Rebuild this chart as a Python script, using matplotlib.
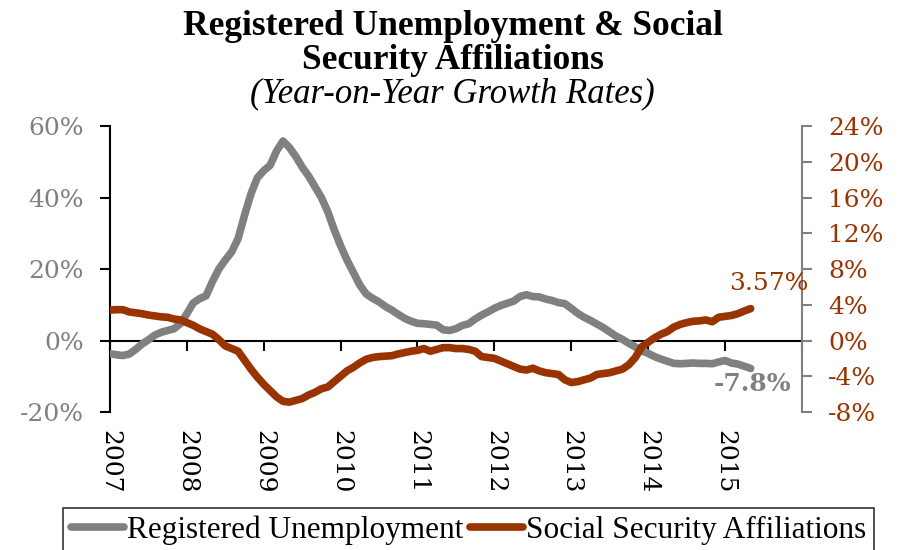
import numpy as np
import matplotlib.pyplot as plt
from matplotlib.lines import Line2D

plt.rcParams['font.family'] = ['DejaVu Serif']

# Monthly year-on-year growth rates, Jan 2007 - May 2015 (%)
years = np.arange(2007, 2016)
unemployment = [
    -3.7, -4.0, -4.2, -3.8, -2.5, -1.0, 0.2, 1.5, 2.3, 2.8, 3.3, 4.7,
    7.5, 10.5, 11.7, 12.5, 16.5, 20.0, 22.5, 24.8, 28.5, 35.0, 41.0, 45.5,
    47.5, 49.0, 53.0, 55.8, 54.0, 51.5, 48.5, 46.0, 43.0, 40.0, 36.0, 31.0,
    26.5, 22.5, 19.0, 15.5, 13.0, 11.8, 10.8, 9.5, 8.5, 7.3, 6.2, 5.4,
    4.8, 4.7, 4.5, 4.3, 3.0, 2.8, 3.3, 4.2, 4.7, 6.0, 7.1, 8.0,
    9.0, 9.8, 10.4, 11.0, 12.3, 12.8, 12.3, 12.2, 11.6, 11.2, 10.6, 10.3,
    9.0, 7.6, 6.5, 5.6, 4.6, 3.6, 2.4, 1.2, 0.3, -0.8, -1.8, -2.9,
    -3.6, -4.5, -5.2, -5.8, -6.4, -6.5, -6.4, -6.3, -6.4, -6.4, -6.5, -6.0,
    -5.6, -6.3, -6.6, -7.2, -7.8,
]
affiliations = [
    3.4, 3.45, 3.45, 3.2, 3.1, 3.0, 2.85, 2.75, 2.65, 2.6, 2.4, 2.3,
    2.0, 1.7, 1.3, 1.0, 0.7, 0.1, -0.6, -0.9, -1.2, -2.2, -3.2, -4.1,
    -4.9, -5.6, -6.3, -6.8, -6.9, -6.7, -6.5, -6.1, -5.8, -5.4, -5.2, -4.6,
    -4.0, -3.4, -3.0, -2.5, -2.1, -1.9, -1.8, -1.75, -1.7, -1.5, -1.35, -1.2,
    -1.1, -0.9, -1.2, -1.0, -0.8, -0.8, -0.9, -0.9, -1.0, -1.2, -1.8, -1.9,
    -2.0, -2.3, -2.6, -2.9, -3.2, -3.3, -3.1, -3.4, -3.6, -3.7, -3.8, -4.4,
    -4.7, -4.6, -4.4, -4.2, -3.8, -3.7, -3.6, -3.4, -3.2, -2.7, -1.9, -0.7,
    -0.2, 0.3, 0.7, 1.0, 1.5, 1.8, 2.0, 2.15, 2.2, 2.3, 2.1, 2.6,
    2.7, 2.8, 3.0, 3.3, 3.57,
]
dates = 2007 + np.arange(len(unemployment)) / 12.0
left_ticks = [-20, 0, 20, 40, 60]
right_ticks = list(range(-8, 25, 4))

gray = '#808080'
brown = '#993300'
narrow = ['Liberation Serif', 'DejaVu Serif']

fig = plt.figure(figsize=(9.05, 5.5), dpi=100)
ax = fig.add_axes([0.1215, 0.2509, 0.7646, 0.52])
ax2 = ax.twinx()

ax.plot(dates, unemployment, color=gray, lw=5.5, solid_capstyle='round', zorder=3)
ax2.plot(dates, affiliations, color=brown, lw=5.5, solid_capstyle='round', zorder=3)

ax.set_xlim(2007, 2016)
ax.set_ylim(-20, 60)
ax2.set_ylim(-8, 24)
ax.set_yticks(left_ticks)
ax.set_yticklabels([f'{v}%' for v in left_ticks])
ax2.set_yticks(right_ticks)
ax2.set_yticklabels([f'{v}%' for v in right_ticks])

# x axis drawn at zero, labels kept at the bottom
ax.spines['top'].set_visible(False)
ax2.spines['top'].set_visible(False)
ax2.spines['bottom'].set_visible(False)
ax2.spines['left'].set_visible(False)
ax.spines['right'].set_visible(False)
ax.spines['bottom'].set_position(('data', 0))
ax.spines['bottom'].set_linewidth(1.5)
ax.spines['left'].set_linewidth(1.5)
ax2.spines['right'].set_color(gray)
ax2.spines['right'].set_linewidth(1.5)
ax.set_xticks(list(years) + [2016])
ax.tick_params(axis='x', direction='out', length=7, width=1.5, labelbottom=False)
ax.tick_params(axis='y', direction='out', length=7, width=1.5, labelsize=18,
               labelcolor=gray, pad=12)
ax2.tick_params(axis='y', direction='out', length=7, width=1.5, color=gray,
                labelsize=18, labelcolor=brown, pad=12)

sec = ax.secondary_xaxis(0.0)
sec.set_xticks(years)
sec.set_xticklabels([str(y) for y in years], rotation=-90, fontsize=18)
sec.spines['bottom'].set_visible(False)
sec.tick_params(length=0, pad=13)

ax2.annotate('3.57%', (dates[-1], affiliations[-1]), xytext=(13, 18),
             textcoords='offset points', ha='center', va='center',
             color=brown, fontsize=18)
ax.annotate('-7.8%', (dates[-1], unemployment[-1]), xytext=(1, -11),
            textcoords='offset points', ha='center', va='center',
            color=gray, fontsize=18, fontweight='bold')

fig.text(0.5, 0.936, 'Registered Unemployment & Social', ha='center',
         va='baseline', fontsize=25.5, fontweight='bold', family=narrow)
fig.text(0.5, 0.8745, 'Security Affiliations', ha='center',
         va='baseline', fontsize=25.5, fontweight='bold', family=narrow)
fig.text(0.5, 0.8145, '(Year-on-Year Growth Rates)', ha='center', va='baseline',
         fontsize=25, style='italic', family=narrow)

handles = [Line2D([], [], color=gray, lw=5.5, solid_capstyle='round'),
           Line2D([], [], color=brown, lw=5.5, solid_capstyle='round')]
leg = fig.legend(handles, ['Registered Unemployment', 'Social Security Affiliations'],
                 loc='upper center', bbox_to_anchor=(0.518, 0.0764), ncol=2,
                 prop={'family': narrow, 'size': 22.5}, frameon=True,
                 fancybox=False, edgecolor='black', handlelength=1.7,
                 handletextpad=0.1, columnspacing=0.2, borderpad=0.25,
                 borderaxespad=0)
leg.get_frame().set_linewidth(1.2)

fig.savefig('out.png', dpi=100)
